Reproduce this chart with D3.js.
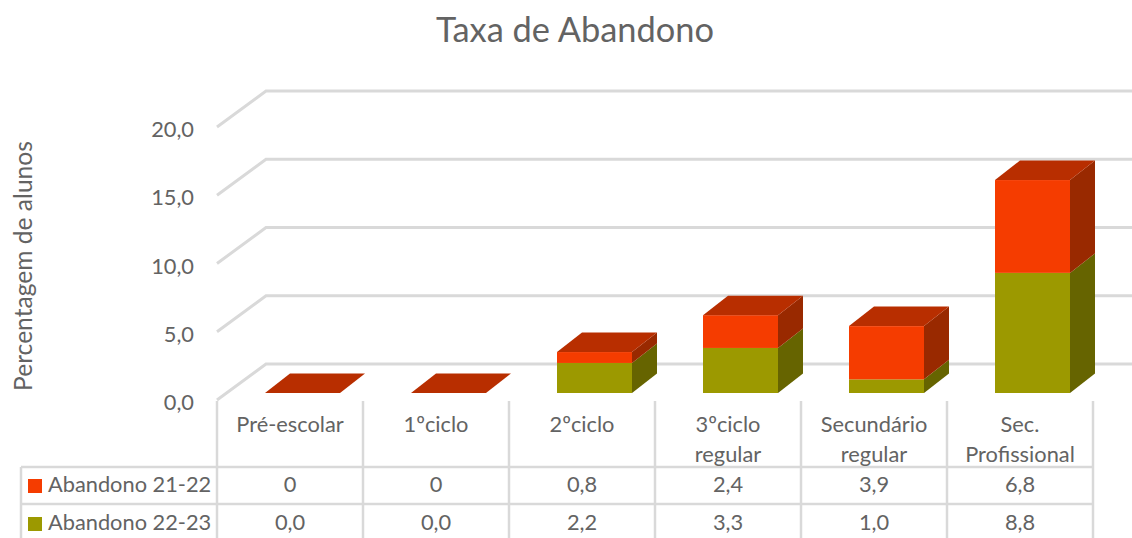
<!DOCTYPE html>
<html>
<head>
<meta charset="utf-8">
<script src="https://cdnjs.cloudflare.com/ajax/libs/d3/7.8.5/d3.min.js"></script>
<style>
  html, body { margin: 0; padding: 0; background: #fff; }
  text { font-family: Lato, "Open Sans", sans-serif; fill: #636363; }
</style>
</head>
<body>
<div id="chart"></div>
<script>
// chart values
var categories = [['Pré-escolar'], ['1ºciclo'], ['2ºciclo'], ['3ºciclo', 'regular'], ['Secundário', 'regular'], ['Sec.', 'Profissional']]
var abandono2122 = [0, 0, 0.8, 2.4, 3.9, 6.8]
var abandono2223 = [0, 0, 2.2, 3.3, 1.0, 8.8]
var labels2122 = ['0', '0', '0,8', '2,4', '3,9', '6,8']
var labels2223 = ['0,0', '0,0', '2,2', '3,3', '1,0', '8,8']
var yTicks = [0, 5, 10, 15, 20]
var seriesNames = ['Abandono 21-22', 'Abandono 22-23']

var width = 1132
var height = 538

// depth of the 3d box
var barDx = 25
var barDy = -19.5
var wallDx = 49
var wallDy = -36

var COLOR = {
  red: '#f53c00', redTop: '#b82e00', redSide: '#992900',
  olive: '#9c9900', oliveSide: '#666400', grid: '#d9d9d9'
}

var svg = d3
  .select('#chart')
  .append('svg')
  .attr('width', width)
  .attr('height', height)
  .style('display', 'block')

var x = d3.scaleBand().domain(d3.range(categories.length)).range([217, 1093])
var y = d3.scaleLinear().domain([0, 20]).range([400, 127])
var format = d3.format('.1f')
var fontSize = 21.8

// title
svg.append('text')
  .attr('x', 575).attr('y', 42)
  .attr('text-anchor', 'middle')
  .attr('font-size', 34.4)
  .text('Taxa de Abandono')

// y axis title
svg.append('text')
  .attr('transform', 'translate(32,266) rotate(-90)')
  .attr('text-anchor', 'middle')
  .attr('font-size', 24.6)
  .text('Percentagem de alunos')

// gridlines: side wall diagonal + back wall
var grid = svg.append('g')
yTicks.forEach(function (t) {
  grid.append('polyline')
    .attr('points', [[217, y(t)], [217 + wallDx, y(t) + wallDy], [width, y(t) + wallDy]].join(' '))
    .attr('fill', 'none')
    .attr('stroke', COLOR.grid)
    .attr('stroke-width', 3)
})

// y tick labels
svg.append('g')
  .selectAll('text')
  .data(yTicks)
  .join('text')
  .attr('x', 194)
  .attr('y', d => y(d) + 10)
  .attr('text-anchor', 'end')
  .attr('font-size', fontSize)
  .text(d => format(d).replace('.', ','))

// bars
var barWidth = 75
var barOffset = 48
var baseShift = y(0) - 393
var bars = svg.append('g')

function box (i, from, to, front, side) {
  var x0 = x(i) + barOffset
  var x1 = x0 + barWidth
  var y0 = y(from) - baseShift
  var y1 = y(to) - baseShift
  bars.append('polygon')
    .attr('points', [[x1, y0], [x1 + barDx, y0 + barDy], [x1 + barDx, y1 + barDy], [x1, y1]].join(' '))
    .attr('fill', side)
  bars.append('rect')
    .attr('x', x0).attr('y', y1)
    .attr('width', barWidth).attr('height', y0 - y1)
    .attr('fill', front)
}

categories.forEach(function (c, i) {
  var a = abandono2223[i]
  var b = abandono2122[i]
  box(i, 0, a, COLOR.olive, COLOR.oliveSide)
  box(i, a, a + b, COLOR.red, COLOR.redSide)
  // top face
  var x0 = x(i) + barOffset
  var yt = y(a + b) - baseShift
  bars.append('polygon')
    .attr('points', [[x0, yt], [x0 + barWidth, yt], [x0 + barWidth + barDx, yt + barDy], [x0 + barDx, yt + barDy]].join(' '))
    .attr('fill', COLOR.redTop)
})

// data table
var rowY = [467, 504, 538]
var table = svg.append('g').attr('stroke', COLOR.grid).attr('stroke-width', 2.5)
x.domain().concat(categories.length).forEach(function (i) {
  var px = i < categories.length ? x(i) : x.range()[1]
  table.append('line').attr('x1', px).attr('x2', px).attr('y1', 401).attr('y2', height)
})
table.append('line').attr('x1', 21).attr('x2', 21).attr('y1', rowY[0]).attr('y2', height)
rowY.slice(0, 2).forEach(function (ry) {
  table.append('line').attr('x1', 21).attr('x2', 1093).attr('y1', ry).attr('y2', ry)
})

// category labels
categories.forEach(function (lines, i) {
  lines.forEach(function (l, j) {
    svg.append('text')
      .attr('x', x(i) + x.bandwidth() / 2)
      .attr('y', 432 + j * 30)
      .attr('text-anchor', 'middle')
      .attr('font-size', fontSize)
      .text(l)
  })
})

// table rows
var rows = [
  { name: seriesNames[0], color: COLOR.red, labels: labels2122, base: 492 },
  { name: seriesNames[1], color: COLOR.olive, labels: labels2223, base: 530 }
]
rows.forEach(function (r) {
  svg.append('rect')
    .attr('x', 28).attr('y', r.base - 13)
    .attr('width', 14).attr('height', 14)
    .attr('fill', r.color)
  svg.append('text')
    .attr('x', 48).attr('y', r.base)
    .attr('font-size', fontSize)
    .text(r.name)
  r.labels.forEach(function (l, i) {
    svg.append('text')
      .attr('x', x(i) + x.bandwidth() / 2)
      .attr('y', r.base)
      .attr('text-anchor', 'middle')
      .attr('font-size', fontSize)
      .text(l)
  })
})
</script>
</body>
</html>
